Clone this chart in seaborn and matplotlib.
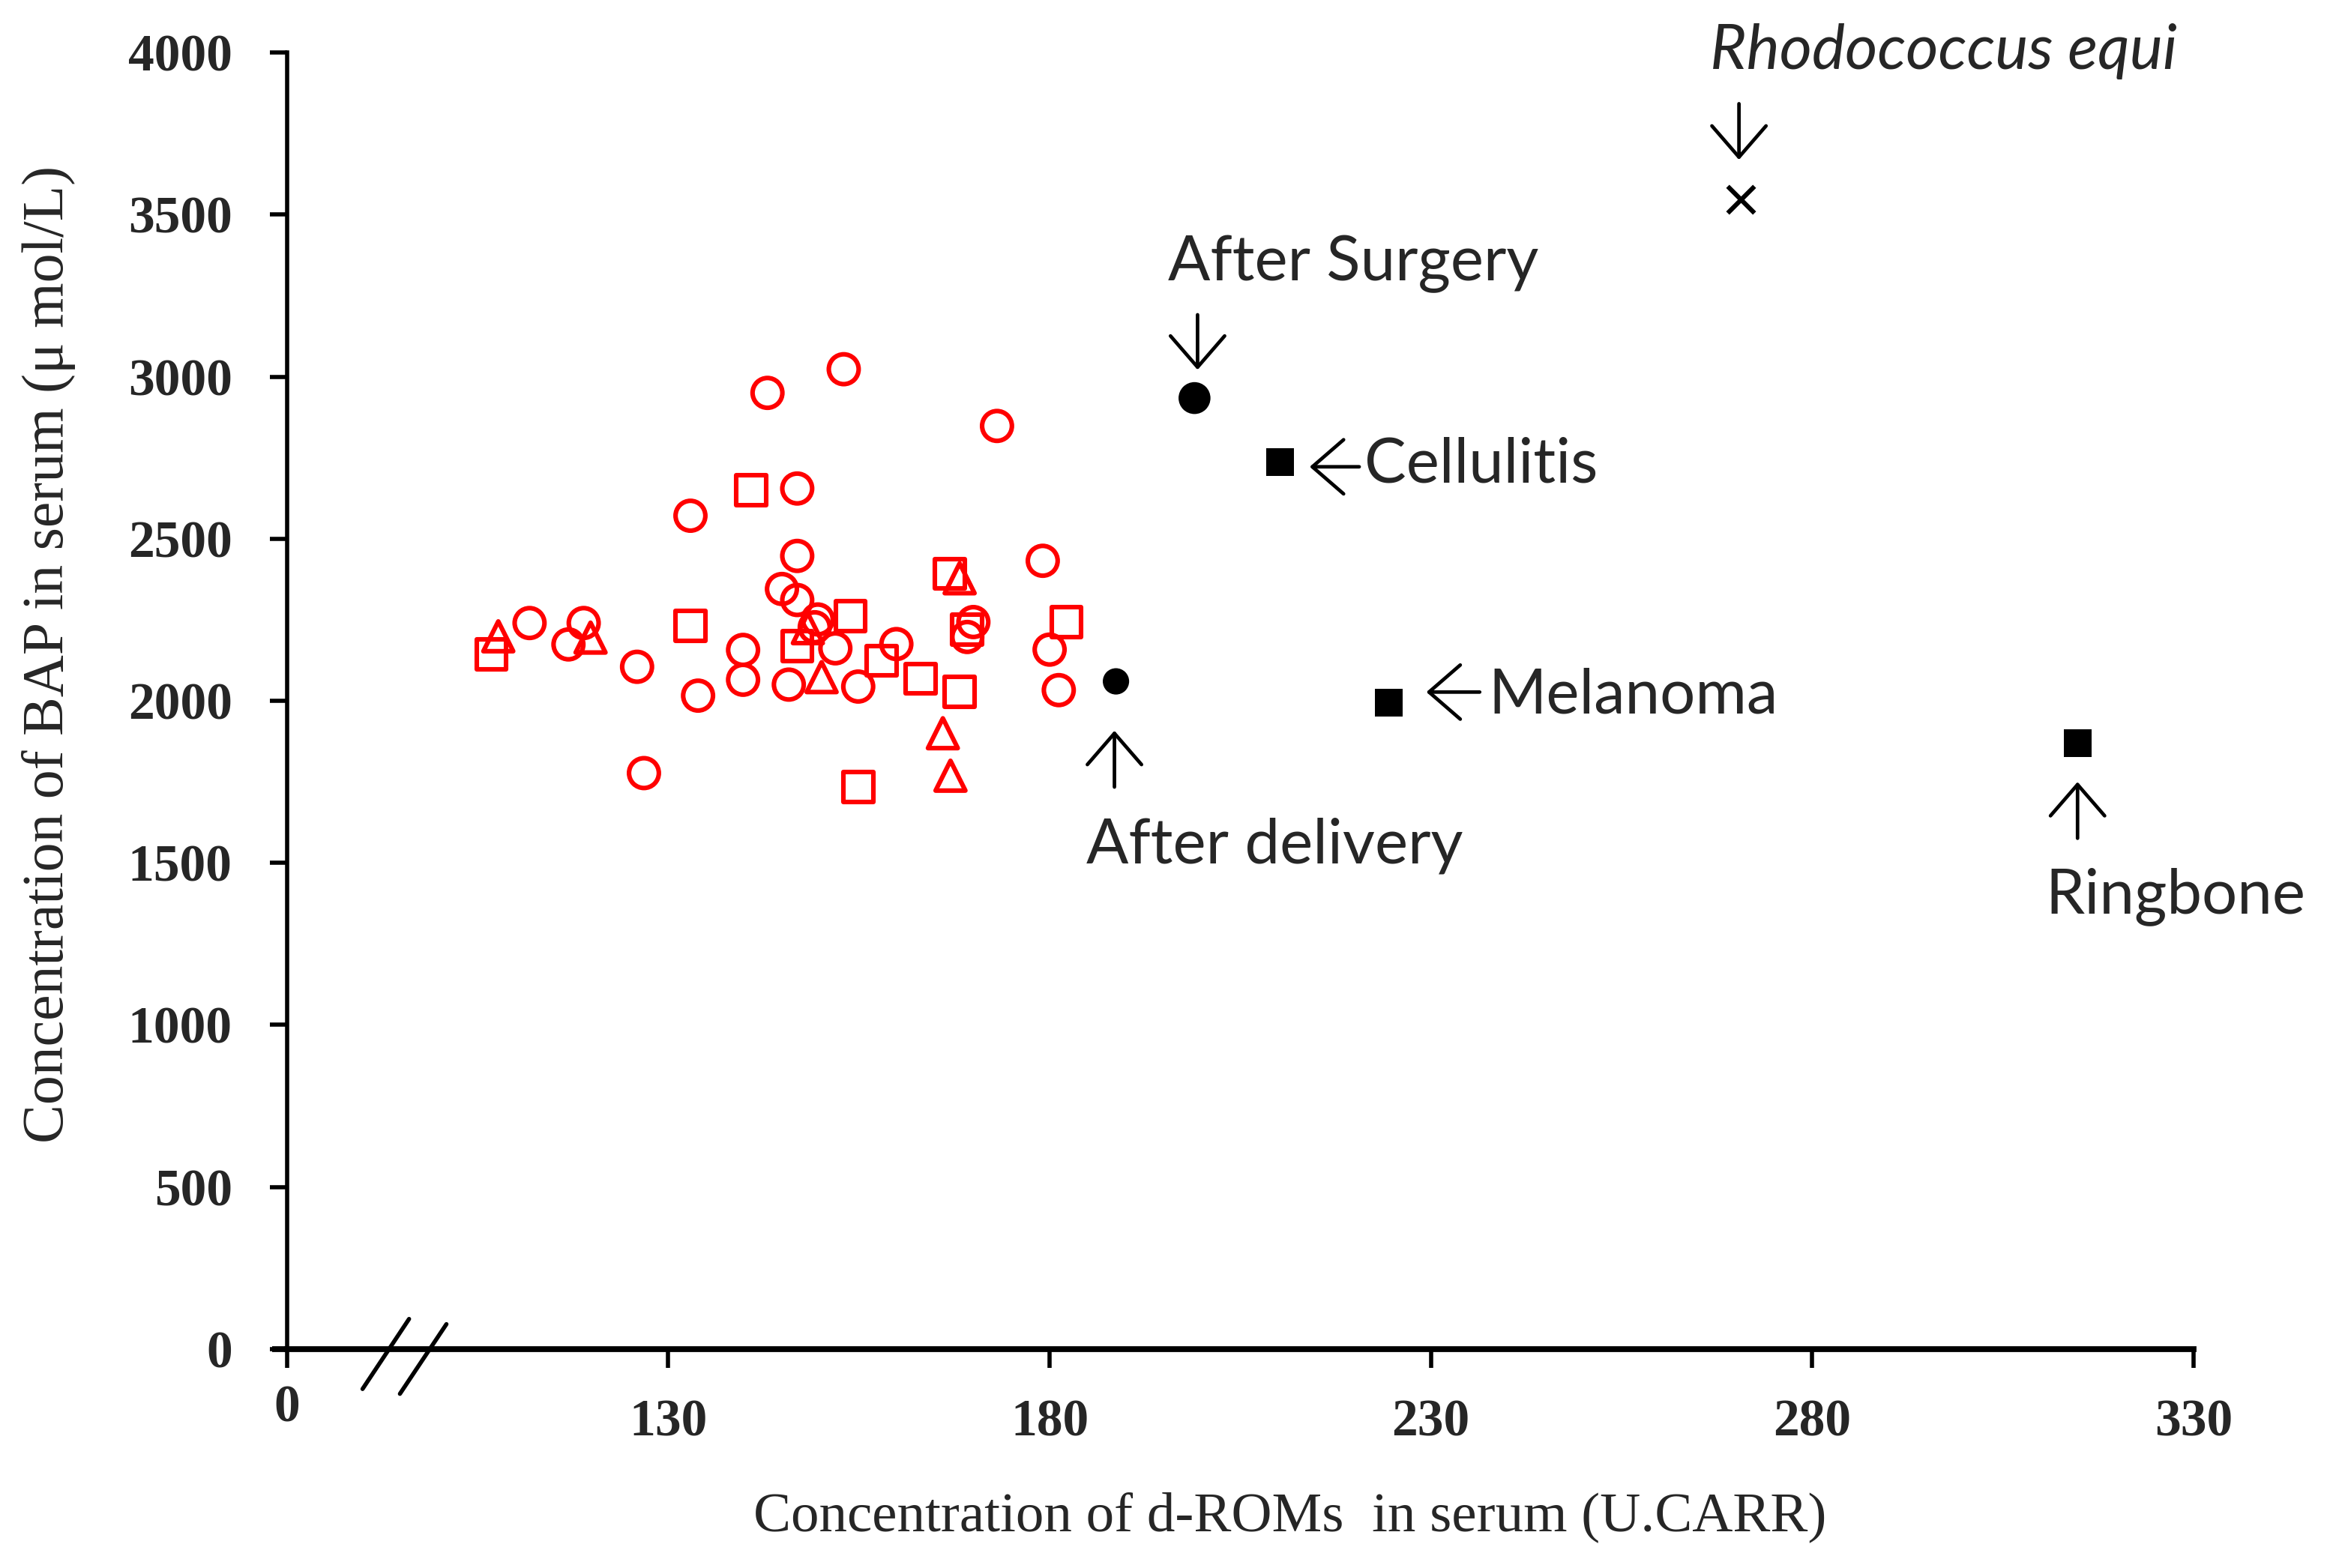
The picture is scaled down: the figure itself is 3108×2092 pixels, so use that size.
import matplotlib
matplotlib.use("Agg")
import matplotlib.pyplot as plt
import matplotlib.transforms as mtransforms
import pandas as pd
import seaborn as sns

# red open markers (healthy horses, three groups)
circle_x = [111.8, 118.9, 116.9, 125.9, 126.8, 132.9, 133.9, 139.8, 139.8, 143.0,
            144.9, 146.9, 146.9, 146.9, 145.8, 149.6, 149.2, 151.9, 153.0, 154.9,
            159.9, 169.2, 170.0, 173.1, 179.1, 180.0, 181.2]
circle_y = [2240, 2240, 2174, 2105, 1777, 2571, 2016, 2157, 2065, 2950,
            2345, 2655, 2447, 2311, 2050, 2251, 2227, 2162, 3023, 2044,
            2175, 2197, 2243, 2848, 2432, 2158, 2033]

square_x = [106.8, 132.9, 140.9, 146.9, 153.9, 154.9, 158.0, 163.1, 166.9, 168.2, 169.2, 182.2]
square_y = [2143, 2232, 2650, 2168, 2262, 1734, 2124, 2068, 2392, 2028, 2220, 2243]

triangle_x = [107.7, 119.8, 148.3, 150.1, 168.2, 166.0, 167.0]
triangle_y = [2199, 2195, 2224, 2073, 2378, 1900, 1769]

# black cases
case_names = ["After Surgery", "After delivery", "Cellulitis", "Melanoma", "Ringbone"]
case_x = [199.0, 188.7, 210.2, 224.5, 314.8]
case_y = [2934, 2060, 2737, 1995, 1869]
case_kind = ["circle", "circle", "square", "square", "square"]
case_size = [235, 160, 180, 180, 180]

rhodo_x = [270.6]
rhodo_y = [3546]

x_ticks = [80, 130, 180, 230, 280, 330]
x_tick_labels = ["0", "130", "180", "230", "280", "330"]
y_ticks = [0, 500, 1000, 1500, 2000, 2500, 3000, 3500, 4000]

red = pd.DataFrame({
    "x": circle_x + square_x + triangle_x,
    "y": circle_y + square_y + triangle_y,
    "group": ["circle"] * len(circle_x) + ["square"] * len(square_x) + ["triangle"] * len(triangle_x),
})
cases = pd.DataFrame({"x": case_x, "y": case_y, "kind": case_kind, "s": case_size, "name": case_names})

sns.set_style("ticks")
plt.rcParams["font.family"] = ["Liberation Serif", "DejaVu Serif"]
ANN_FONT = ["Lato", "DejaVu Sans"]

fig = plt.figure(figsize=(15.54, 10.46), dpi=200)
ax = fig.add_axes([0.1232, 0.1396, 0.8182, 0.8269])

sns.scatterplot(data=red, x="x", y="y", style="group",
                markers={"circle": "o", "square": "s", "triangle": "^"},
                s=205, facecolor="none", edgecolor="#FF0000", linewidth=2.2,
                legend=False, ax=ax, clip_on=False, zorder=3)

for kind, mk in [("circle", "o"), ("square", "s")]:
    sub = cases[cases["kind"] == kind]
    sns.scatterplot(data=sub, x="x", y="y", marker=mk, s=sub["s"].tolist(),
                    color="black", linewidth=0, legend=False, ax=ax, zorder=4)

sns.scatterplot(x=rhodo_x, y=rhodo_y, marker="x", s=165, color="black",
                linewidth=2.2, legend=False, ax=ax, zorder=4)

ax.set_xlim(80, 330)
ax.set_ylim(0, 4000)
ax.set_xticks(x_ticks)
ax.set_xticklabels(x_tick_labels)
ax.set_yticks(y_ticks)
ax.set_yticklabels([str(v) for v in y_ticks])

for lab in ax.get_xticklabels() + ax.get_yticklabels():
    lab.set_fontweight("bold")
    lab.set_fontsize(25)
ax.tick_params(axis="y", length=8.3, width=2, pad=18, direction="out", color="black")
ax.tick_params(axis="x", length=9, width=2, pad=15, direction="out", color="black")

# the "0" label sits higher than the others
zero = ax.get_xticklabels()[0]
zero.set_transform(zero.get_transform() + mtransforms.ScaledTranslation(0, 7 / 72, fig.dpi_scale_trans))

sns.despine(ax=ax)
ax.spines["left"].set_linewidth(2.0)
ax.spines["bottom"].set_linewidth(2.8)
ax.spines["left"].set_color("black")
ax.spines["bottom"].set_color("black")

# x axis line runs a little past the y axis, plus the break marks
ax.plot([78, 80], [0, 0], color="black", lw=2.8, clip_on=False, solid_capstyle="butt", zorder=5)
ax.plot([89.9, 96.0], [-123, 93], color="black", lw=2.0, clip_on=False, zorder=5)
ax.plot([94.8, 100.9], [-138, 77], color="black", lw=2.0, clip_on=False, zorder=5)

ax.set_xlabel("Concentration of d-ROMs  in serum (U.CARR)", fontsize=27)
ax.set_ylabel("Concentration of BAP in serum (\u03bc mol/L)", fontsize=28)
ax.xaxis.set_label_coords(0.526, -0.11)
ax.yaxis.set_label_coords(-0.111, 0.536)

# annotations
arrow = dict(arrowstyle="->,head_length=0.75,head_width=0.65", lw=1.7, color="black",
             shrinkA=0, shrinkB=0, mutation_scale=20)


def add_arrow(x0, y0, x1, y1):
    ax.annotate("", xy=(x1, y1), xytext=(x0, y0), arrowprops=arrow, annotation_clip=False)


ax.text(195.5, 3296, "After Surgery", family=ANN_FONT, fontsize=30, va="baseline", ha="left")
add_arrow(199.4, 3191, 199.4, 3021)

add_arrow(220.6, 2722, 214.1, 2722)
ax.text(221.3, 2675, "Cellulitis", family=ANN_FONT, fontsize=30, va="baseline", ha="left")

add_arrow(236.4, 2027, 229.4, 2027)
ax.text(237.5, 1962, "Melanoma", family=ANN_FONT, fontsize=30, va="baseline", ha="left")

add_arrow(188.5, 1734, 188.5, 1908)
ax.text(184.8, 1499, "After delivery", family=ANN_FONT, fontsize=30, va="baseline", ha="left")

add_arrow(314.8, 1576, 314.8, 1750)
ax.text(310.6, 1345, "Ringbone", family=ANN_FONT, fontsize=30, va="baseline", ha="left")

add_arrow(270.4, 3842, 270.4, 3669)
ax.text(266.6, 3950, "Rhodococcus equi", family=ANN_FONT, fontsize=30, style="italic",
        va="baseline", ha="left", clip_on=False)

fig.savefig("out.png", dpi=200)
